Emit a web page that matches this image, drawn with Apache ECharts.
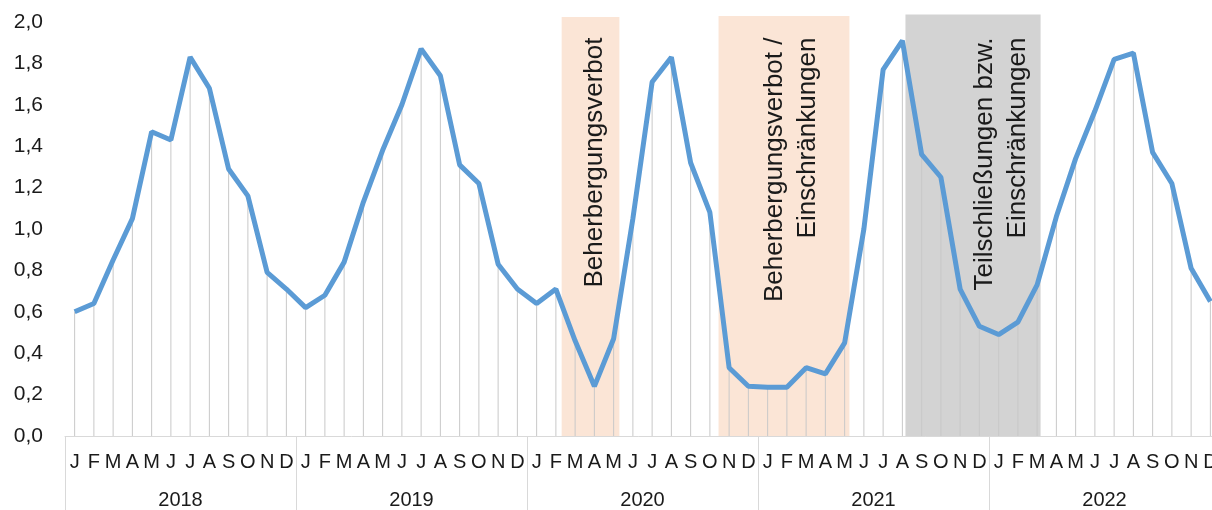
<!DOCTYPE html>
<html>
<head>
<meta charset="utf-8">
<script src="https://cdn.jsdelivr.net/npm/echarts@6/dist/echarts.min.js"></script>
<style>
    html, body { margin: 0; padding: 0; background: #fff; }
    #chart { width: 1212px; height: 510px; }
</style>
</head>
<body>
<div id="chart"></div>
<script>
// Monatsbuchstaben und Jahre
const monthLetters = ['J', 'F', 'M', 'A', 'M', 'J', 'J', 'A', 'S', 'O', 'N', 'D'];
const years = ['2018', '2019', '2020', '2021', '2022'];

// Werte je Jahr
const values2018 = [0.60, 0.64, 0.85, 1.05, 1.47, 1.43, 1.83, 1.68, 1.29, 1.16, 0.79, 0.71];
const values2019 = [0.62, 0.68, 0.84, 1.13, 1.38, 1.60, 1.87, 1.74, 1.31, 1.22, 0.83, 0.71];
const values2020 = [0.64, 0.71, 0.46, 0.24, 0.47, 1.05, 1.71, 1.83, 1.32, 1.08, 0.33, 0.24];
const values2021 = [0.235, 0.235, 0.33, 0.30, 0.45, 1.00, 1.77, 1.91, 1.36, 1.25, 0.71, 0.53];
const values2022 = [0.49, 0.55, 0.73, 1.06, 1.34, 1.57, 1.82, 1.85, 1.37, 1.22, 0.81, 0.65];

// Schattierte Zeiträume in Monatsindex (0 = Jan 2018), Text
const periodStart = [25.8, 33.95, 43.66];
const periodEnd = [28.8, 40.75, 50.68];
const periodTop = [2.024, 2.029, 2.036];
const periodLabels = ['Beherbergungsverbot', 'Beherbergungsverbot /\nEinschränkungen', 'Teilschließungen bzw.\nEinschränkungen'];
const labelCenter = [27.5, 37.74, 48.65];
const labelTop = 1.925;
const periodColors = ['#FBE5D6', '#FBE5D6', '#D3D3D3'];

const months = [];
years.forEach(() => monthLetters.forEach(m => months.push(m)));
const values = [].concat(values2018, values2019, values2020, values2021, values2022);

const fontFamily = '"Liberation Sans", Arial, sans-serif';
const textColor = '#1a1a1a';
const lineColor = '#d9d9d9';

const chart = echarts.init(document.getElementById('chart'));

const areaData = periodStart.map((s, i) => [s, periodEnd[i], periodTop[i], labelCenter[i], i]);

const option = {
    animation: false,
    backgroundColor: '#fff',
    // Diagramm läuft rechts über den Rand hinaus (letztes D abgeschnitten)
    grid: { left: 65, width: 1155, top: 22, bottom: 74, containLabel: false, outerBoundsMode: 'none' },
    xAxis: [
        {
            type: 'category',
            data: months,
            position: 'bottom',
            axisLine: { show: true, lineStyle: { color: lineColor, width: 1 } },
            axisTick: { show: false },
            axisLabel: {
                interval: 0,
                hideOverlap: false,
                margin: 16,
                color: textColor,
                fontSize: 20,
                fontFamily: fontFamily,
            },
            splitLine: { show: false },
        },
        {
            type: 'category',
            data: years,
            position: 'bottom',
            axisLine: { show: false },
            axisTick: { show: true, length: 80, lineStyle: { color: lineColor, width: 1 } },
            axisLabel: {
                interval: 0,
                margin: 54,
                color: textColor,
                fontSize: 20,
                fontFamily: fontFamily,
            },
            splitLine: { show: false },
        },
        {
            type: 'value',
            min: 0,
            max: 60,
            show: false,
        },
    ],
    yAxis: {
        type: 'value',
        min: 0,
        max: 2,
        interval: 0.2,
        axisLine: { show: false },
        axisTick: { show: false },
        splitLine: { show: false },
        axisLabel: {
            margin: 22,
            padding: [3, 0, 0, 0],
            color: textColor,
            fontSize: 21,
            fontFamily: fontFamily,
            formatter: v => v.toFixed(1).replace('.', ','),
        },
    },
    series: [
        {
            // Zeiträume mit Einschränkungen
            type: 'custom',
            xAxisIndex: 2,
            yAxisIndex: 0,
            clip: false,
            silent: true,
            z: 1,
            data: areaData,
            renderItem: function (params, api) {
                const i = api.value(4);
                const p0 = api.coord([api.value(0), api.value(2)]);
                const p1 = api.coord([api.value(1), 0]);
                const anchor = api.coord([api.value(3), labelTop]);
                return {
                    type: 'group',
                    children: [
                        {
                            type: 'rect',
                            shape: { x: p0[0], y: p0[1], width: p1[0] - p0[0], height: p1[1] - p0[1] },
                            style: { fill: periodColors[i] },
                        },
                        {
                            type: 'text',
                            x: anchor[0],
                            y: anchor[1],
                            rotation: Math.PI / 2,
                            z2: 10,
                            style: {
                                text: periodLabels[i],
                                fill: textColor,
                                fontSize: 26,
                                fontFamily: fontFamily,
                                lineHeight: 33,
                                align: 'right',
                                verticalAlign: 'middle',
                            },
                        },
                    ],
                };
            },
        },
        {
            // Lotlinien
            type: 'bar',
            data: values,
            barWidth: 1,
            silent: true,
            z: 2,
            itemStyle: { color: '#c8c8c8' },
        },
        {
            type: 'line',
            data: values,
            symbol: 'none',
            z: 3,
            lineStyle: { color: '#5B9BD5', width: 5 },
        },
    ],
};

chart.setOption(option);
</script>
</body>
</html>
